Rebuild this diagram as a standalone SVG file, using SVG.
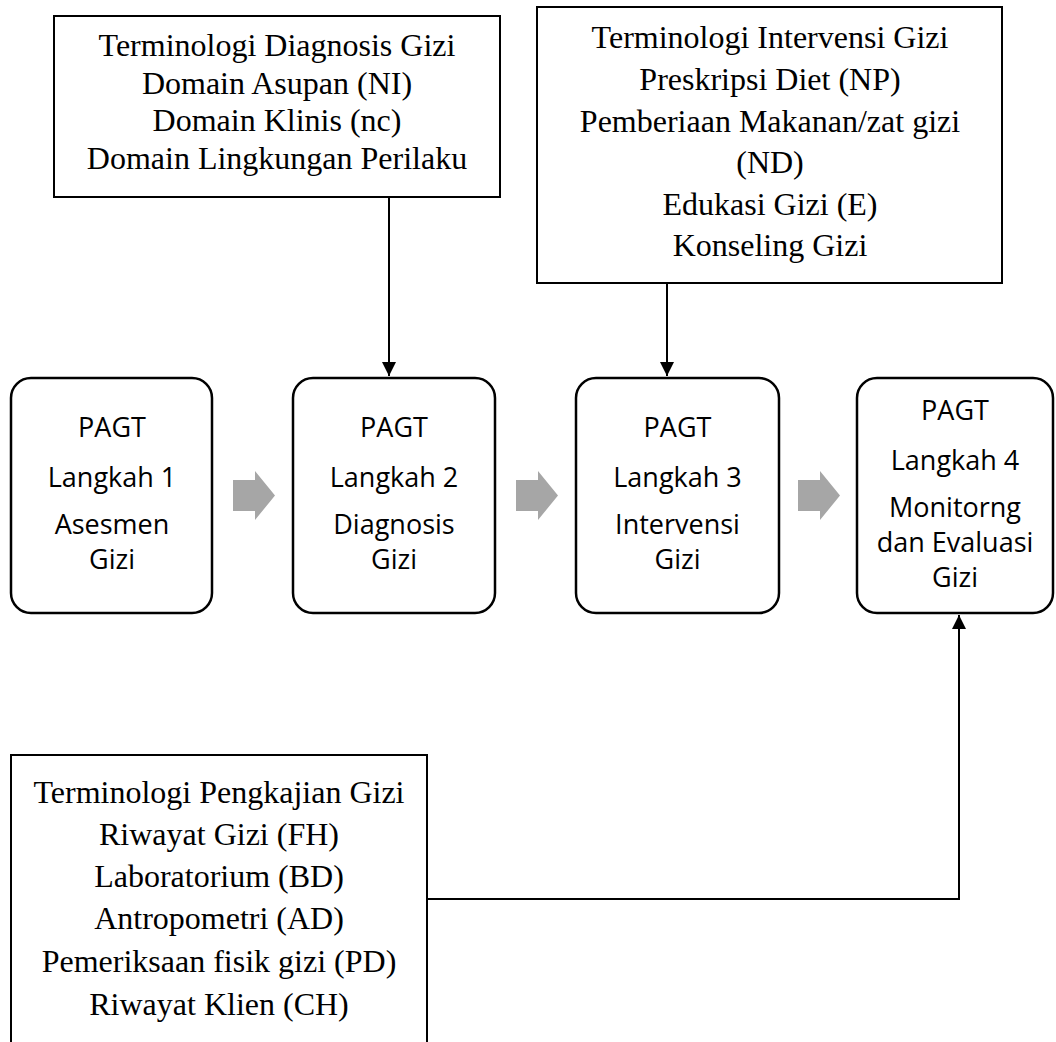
<svg xmlns="http://www.w3.org/2000/svg" width="1056" height="1042" viewBox="0 0 1056 1042">
<style>
.term{fill:#fff;stroke:#000;stroke-width:2}
.step{fill:#fff;stroke:#000;stroke-width:2.5}
.tt{font-family:"Liberation Serif","Times New Roman",serif;font-size:32px;fill:#000;text-anchor:middle}
.st{font-family:"Open Sans","Liberation Sans",sans-serif;font-size:27px;fill:#000;text-anchor:middle}
.flow{fill:#a6a6a6}
.conn{fill:none;stroke:#000;stroke-width:2}
</style>
<defs>
<marker id="ah" markerWidth="15" markerHeight="14" refX="14" refY="7" orient="auto" markerUnits="userSpaceOnUse">
<path d="M0,0 L14,7 L0,14 Z" fill="#000"/>
</marker>
</defs>
<rect width="1056" height="1042" fill="#fff"/>
<g id="term-diagnosis">
<rect class="term" x="54" y="16" width="446" height="181"/>
<text class="tt" x="277" y="56">Terminologi Diagnosis Gizi</text>
<text class="tt" x="277" y="94">Domain Asupan (NI)</text>
<text class="tt" x="277" y="131">Domain Klinis (nc)</text>
<text class="tt" x="277" y="169">Domain Lingkungan Perilaku</text>
</g>
<g id="term-intervensi">
<rect class="term" x="537" y="7" width="465" height="276"/>
<text class="tt" x="770" y="48">Terminologi Intervensi Gizi</text>
<text class="tt" x="770" y="90">Preskripsi Diet (NP)</text>
<text class="tt" x="770" y="132">Pemberiaan Makanan/zat gizi</text>
<text class="tt" x="770" y="173">(ND)</text>
<text class="tt" x="770" y="215">Edukasi Gizi (E)</text>
<text class="tt" x="770" y="256">Konseling Gizi</text>
</g>
<g id="step1">
<rect class="step" x="11" y="378" width="201" height="235" rx="20"/>
<text class="st" x="112" y="437">PAGT</text>
<text class="st" x="112" y="487">Langkah 1</text>
<text class="st" x="112" y="534">Asesmen</text>
<text class="st" x="112" y="569">Gizi</text>
</g>
<g id="step2">
<rect class="step" x="293" y="378" width="202" height="235" rx="20"/>
<text class="st" x="394" y="437">PAGT</text>
<text class="st" x="394" y="487">Langkah 2</text>
<text class="st" x="394" y="534">Diagnosis</text>
<text class="st" x="394" y="569">Gizi</text>
</g>
<g id="step3">
<rect class="step" x="576" y="378" width="203" height="235" rx="20"/>
<text class="st" x="677.5" y="437">PAGT</text>
<text class="st" x="677.5" y="487">Langkah 3</text>
<text class="st" x="677.5" y="534">Intervensi</text>
<text class="st" x="677.5" y="569">Gizi</text>
</g>
<g id="step4">
<rect class="step" x="857" y="378" width="196" height="235" rx="20"/>
<text class="st" x="955" y="420">PAGT</text>
<text class="st" x="955" y="470">Langkah 4</text>
<text class="st" x="955" y="517">Monitorng</text>
<text class="st" x="955" y="552">dan Evaluasi</text>
<text class="st" x="955" y="587">Gizi</text>
</g>
<g id="term-pengkajian">
<path class="term" d="M11,1046 L11,755 L427,755 L427,1046"/>
<text class="tt" x="219" y="803">Terminologi Pengkajian Gizi</text>
<text class="tt" x="219" y="845">Riwayat Gizi (FH)</text>
<text class="tt" x="219" y="887">Laboratorium (BD)</text>
<text class="tt" x="219" y="929">Antropometri (AD)</text>
<text class="tt" x="219" y="972">Pemeriksaan fisik gizi (PD)</text>
<text class="tt" x="219" y="1015">Riwayat Klien (CH)</text>
</g>
<g id="connectors">
<path class="flow" d="M233,480 H255 V471 L275,495.5 L255,520 V511 H233 Z"/>
<path class="flow" d="M516,480 H538 V471 L558,495.5 L538,520 V511 H516 Z"/>
<path class="flow" d="M798,480 H820 V471 L840,495.5 L820,520 V511 H798 Z"/>
<path class="conn" d="M389,197 V376" marker-end="url(#ah)"/>
<path class="conn" d="M667,283 V376" marker-end="url(#ah)"/>
<path class="conn" d="M427,899 H959 V615" marker-end="url(#ah)" stroke-width="1.6"/>
</g>
</svg>
